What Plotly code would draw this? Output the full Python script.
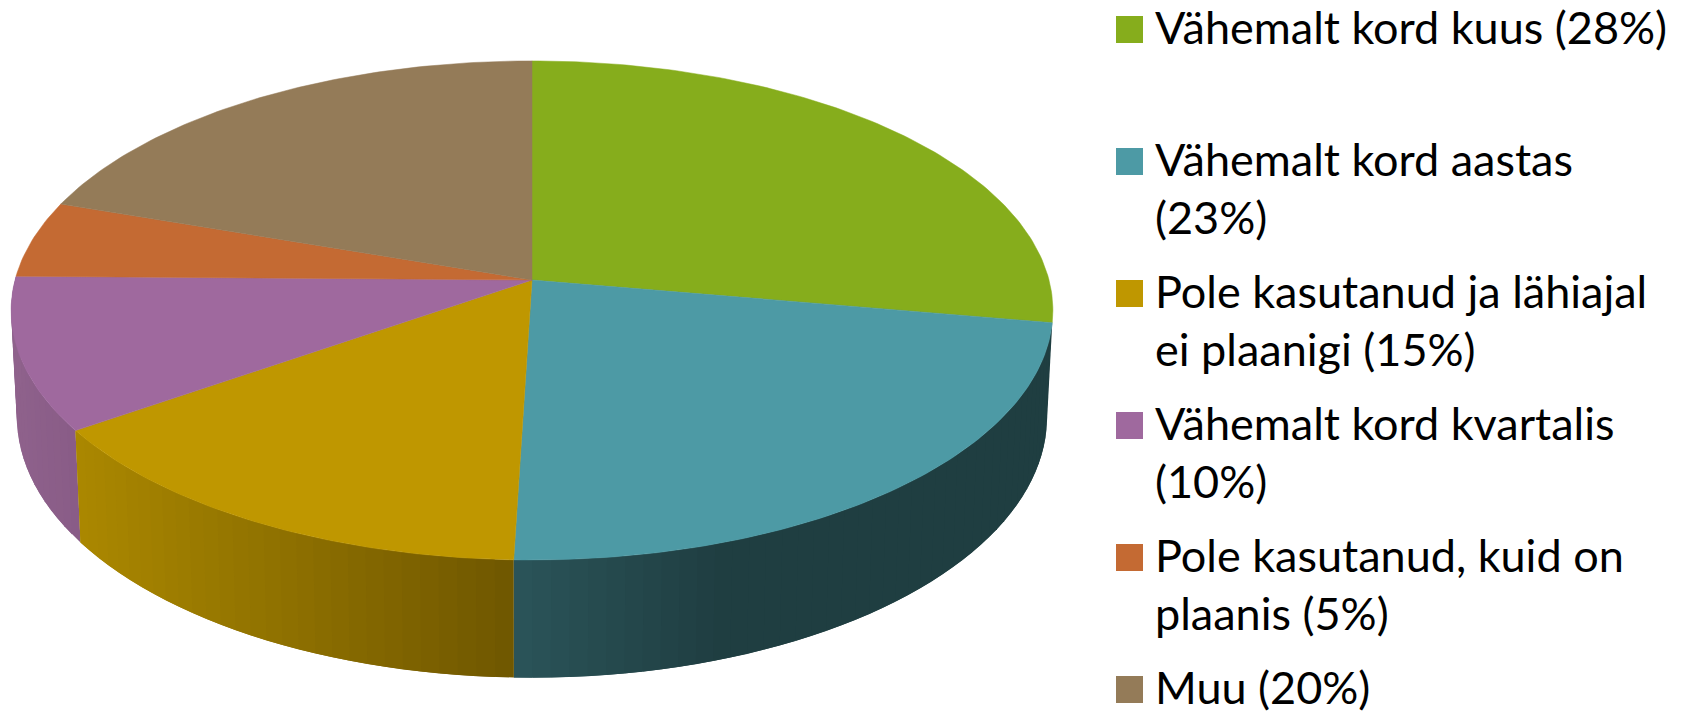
import math
import plotly.graph_objects as go

categories = ["Vähemalt kord kuus", "Vähemalt kord aastas", "Pole kasutanud ja lähiajal ei plaanigi",
              "Vähemalt kord kvartalis", "Pole kasutanud, kuid on plaanis", "Muu"]
values = [28, 23, 15, 10, 5, 20]
top_colors = ["#86AD1C", "#4D9AA5", "#BF9700", "#9F699E", "#C46A33", "#947B58"]
legend_lines = [["Vähemalt kord kuus (28%)"],
                ["Vähemalt kord aastas", "(23%)"],
                ["Pole kasutanud ja lähiajal", "ei plaanigi (15%)"],
                ["Vähemalt kord kvartalis", "(10%)"],
                ["Pole kasutanud, kuid on", "plaanis (5%)"],
                ["Muu (20%)"]]

# side-wall shading: slice index -> (x from, colour from, x to, colour to)
side_shade = {1: (514, (42, 84, 89), 720, (31, 62, 65)),
              2: (81, (170, 135, 0), 514, (111, 87, 0)),
              3: (10, (143, 98, 140), 81, (136, 91, 134))}

# projection of the tilted disc
CX, CY = 532.0, 280.0
BX, AY, K = 517.0, 245.8, 0.122
S2, A2, D2 = 0.989, 257.0, 105.0


def top_pt(frac):
    a = 2 * math.pi * frac
    x, y = math.sin(a), -math.cos(a)
    w = 1 - K * y
    return CX + BX * x / w, CY + AY * y / w


def bot_pt(frac):
    a = 2 * math.pi * frac
    x, y = math.sin(a), -math.cos(a)
    w = 1 - K * y
    return CX + S2 * BX * x / w, CY + D2 + A2 * y / w


total = sum(values)
bounds = [0.0]
for v in values:
    bounds.append(bounds[-1] + v / total)

fig = go.Figure()

# side walls, back-most first; each band runs under the next one so no seams show
for i in [3, 1, 2]:
    x0, c0, x1, c1 = side_shade[i]
    lo, hi = bounds[i], bounds[i + 1]
    n = max(12, int((hi - lo) * 200))
    for j in range(n):
        f0 = lo + (hi - lo) * j / n
        f1 = min(hi, lo + (hi - lo) * (j + 2) / n)
        fm = lo + (hi - lo) * (j + 1) / n
        t0, t1, b1, b0 = top_pt(f0), top_pt(f1), bot_pt(f1), bot_pt(f0)
        mx = (t0[0] + top_pt(fm)[0]) / 2
        t = min(1, max(0, (mx - x0) / (x1 - x0)))
        c = "rgb(%d,%d,%d)" % tuple(round(c0[k] + (c1[k] - c0[k]) * t) for k in range(3))
        fig.add_trace(go.Scatter(x=[t0[0], t1[0], b1[0], b0[0], t0[0]], y=[t0[1], t1[1], b1[1], b0[1], t0[1]],
                                 mode="lines", fill="toself", fillcolor=c, line=dict(width=0),
                                 hoverinfo="skip", showlegend=False))

# top face
for i, col in enumerate(top_colors):
    lo, hi = bounds[i], bounds[i + 1]
    n = max(8, int((hi - lo) * 400))
    pts = [top_pt(lo + (hi - lo) * j / n) for j in range(n + 1)]
    xs = [CX] + [p[0] for p in pts] + [CX]
    ys = [CY] + [p[1] for p in pts] + [CY]
    fig.add_trace(go.Scatter(x=xs, y=ys, mode="lines", fill="toself", fillcolor=col,
                             line=dict(color=col, width=0.5), name=categories[i],
                             hoverinfo="name", showlegend=False))

# legend
LEG_KEY_X0, LEG_KEY_X1 = 1116, 1143
LEG_TEXT_X = 1153
LEG_STEP = 132
LEG_FIRST = 29.5
LINE_H = 58
TEXT_DY = -3
shapes, annots = [], []
for i, lines in enumerate(legend_lines):
    yc = LEG_FIRST + i * LEG_STEP
    shapes.append(dict(type="rect", xref="x", yref="y", x0=LEG_KEY_X0, x1=LEG_KEY_X1, y0=yc - 13.5, y1=yc + 13.5,
                       fillcolor=top_colors[i], line=dict(width=0), layer="above"))
    for k, line in enumerate(lines):
        annots.append(dict(x=LEG_TEXT_X, y=yc + TEXT_DY + k * LINE_H, xref="x", yref="y", text=line, showarrow=False,
                           xanchor="left", yanchor="middle", font=dict(family="Lato", size=45, color="#000000")))

fig.update_layout(width=1686, height=711, autosize=False, margin=dict(l=0, r=0, t=0, b=0),
                  paper_bgcolor="#FFFFFF", plot_bgcolor="#FFFFFF", showlegend=False,
                  shapes=shapes, annotations=annots,
                  xaxis=dict(range=[0, 1686], visible=False, fixedrange=True),
                  yaxis=dict(range=[711, 0], visible=False, fixedrange=True))
fig.write_html("out.html", config=dict(displayModeBar=False),
               post_script="document.body.style.margin='0';document.documentElement.style.overflow='hidden';")
